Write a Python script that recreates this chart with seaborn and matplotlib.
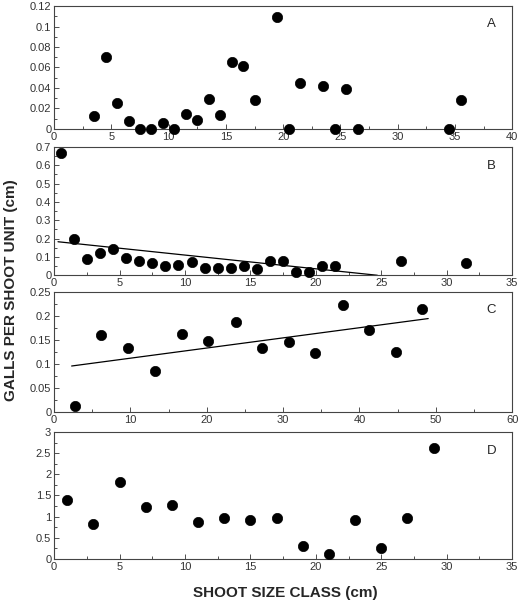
import numpy as np
import pandas as pd
import matplotlib
matplotlib.use("Agg")
import matplotlib.pyplot as plt
import seaborn as sns
from matplotlib.ticker import MultipleLocator

# Panel A
a_x = [3.5, 4.5, 5.5, 6.5, 7.5, 8.5, 9.5, 10.5, 11.5, 12.5, 13.5, 14.5, 15.5, 16.5,
       17.5, 19.5, 20.5, 21.5, 23.5, 24.5, 25.5, 26.5, 34.5, 35.5]
a_y = [0.013, 0.070, 0.025, 0.008, 0.0, 0.0, 0.0055, 0.0, 0.015, 0.009, 0.029, 0.014,
       0.065, 0.061, 0.028, 0.109, 0.0, 0.045, 0.042, 0.0, 0.039, 0.0, 0.0, 0.028]

# Panel B
b_x = [0.5, 1.5, 2.5, 3.5, 4.5, 5.5, 6.5, 7.5, 8.5, 9.5, 10.5, 11.5, 12.5, 13.5,
       14.5, 15.5, 16.5, 17.5, 18.5, 19.5, 20.5, 21.5, 26.5, 31.5]
b_y = [0.667, 0.196, 0.091, 0.119, 0.146, 0.097, 0.079, 0.066, 0.048, 0.057, 0.071,
       0.040, 0.037, 0.040, 0.053, 0.035, 0.077, 0.079, 0.020, 0.020, 0.051, 0.049,
       0.079, 0.066]
b_line_x = [0.3, 24.7]
b_line_y = [0.183, 0.0]

# Panel C
c_x = [2.8, 6.2, 9.7, 13.2, 16.8, 20.1, 23.8, 27.2, 30.8, 34.2, 37.8, 41.2, 44.8, 48.2]
c_y = [0.012, 0.160, 0.133, 0.085, 0.162, 0.149, 0.187, 0.133, 0.147, 0.124, 0.224,
       0.172, 0.126, 0.216]
c_line_x = [2.3, 49.0]
c_line_y = [0.096, 0.195]

# Panel D
d_x = [1, 3, 5, 7, 9, 11, 13, 15, 17, 19, 21, 23, 25, 27, 29]
d_y = [1.39, 0.82, 1.82, 1.23, 1.27, 0.87, 0.97, 0.91, 0.97, 0.31, 0.13, 0.91, 0.25,
       0.98, 2.61]

panels = [
    ("A", a_x, a_y, None, None, (0, 40, 5, 2.5), (0, 0.12, 0.02, 0.01)),
    ("B", b_x, b_y, b_line_x, b_line_y, (0, 35, 5, 2.5), (0, 0.7, 0.1, 0.05)),
    ("C", c_x, c_y, c_line_x, c_line_y, (0, 60, 10, 5), (0, 0.25, 0.05, 0.025)),
    ("D", d_x, d_y, None, None, (0, 35, 5, 2.5), (0, 3, 0.5, 0.25)),
]

sns.set_style("ticks")
plt.rcParams['font.family'] = ['Liberation Sans', 'DejaVu Sans']

fig = plt.figure(figsize=(5.2, 6.05), dpi=100)
boxes = [(0.104, 0.787, 0.881, 0.203),
         (0.104, 0.545, 0.881, 0.212),
         (0.104, 0.319, 0.881, 0.198),
         (0.104, 0.076, 0.881, 0.210)]

for (label, x, y, lx, ly, xl, yl), box in zip(panels, boxes):
    ax = fig.add_axes(box)
    df = pd.DataFrame({"x": x, "y": y})
    sns.scatterplot(data=df, x="x", y="y", color="black", s=55, edgecolor="black",
                    linewidth=0.5, ax=ax, zorder=3, clip_on=False)
    if lx is not None:
        ldf = pd.DataFrame({"x": lx, "y": ly})
        sns.lineplot(data=ldf, x="x", y="y", color="black", linewidth=0.9, ax=ax)
    ax.set_xlim(xl[0], xl[1])
    ax.set_ylim(yl[0], yl[1])
    ax.xaxis.set_major_locator(MultipleLocator(xl[2]))
    ax.xaxis.set_minor_locator(MultipleLocator(xl[3]))
    ax.yaxis.set_major_locator(MultipleLocator(yl[2]))
    ax.yaxis.set_minor_locator(MultipleLocator(yl[3]))
    ax.tick_params(which="both", direction="in", labelsize=8, colors="#333333",
                   pad=2)
    ax.tick_params(which="major", length=3.5, width=0.6)
    ax.tick_params(which="minor", length=2, width=0.6)
    for sp in ax.spines.values():
        sp.set_visible(True)
        sp.set_color("#444444")
        sp.set_linewidth(0.8)
    ax.yaxis.set_major_formatter(plt.FuncFormatter(lambda v, p: ("%g" % round(v, 4))))
    ax.set_xlabel("")
    ax.set_ylabel("")
    ax.text(0.955, 0.85, label, transform=ax.transAxes, fontsize=9.5, ha="center",
            va="center")

fig.text(0.022, 0.52, "GALLS PER SHOOT UNIT (cm)", rotation=90, fontsize=11,
         fontweight="bold", ha="center", va="center")
fig.text(0.548, 0.02, "SHOOT SIZE CLASS (cm)", fontsize=11, fontweight="bold",
         ha="center", va="center")

fig.savefig("out.png", dpi=100)
